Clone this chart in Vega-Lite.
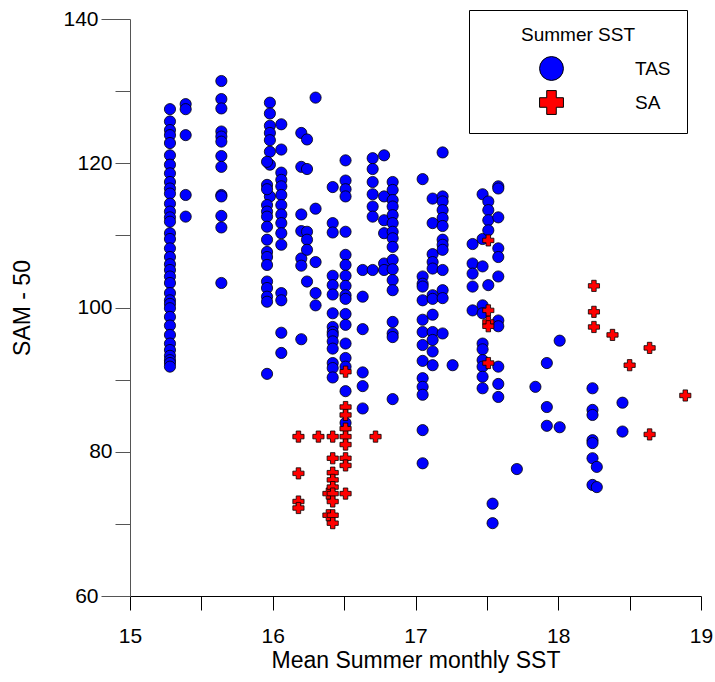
{
  "$schema": "https://vega.github.io/schema/vega-lite/v6.json",
  "width": 571,
  "height": 577,
  "autosize": "none",
  "padding": {"left": 130, "top": 19, "right": 14, "bottom": 86},
  "background": "white",
  "config": {"view": {"stroke": null}, "font": "Liberation Sans"},
  "data": {"values": [
    {"x":15.28,"y":127.5,"g":"TAS"},{"x":15.28,"y":125.8,"g":"TAS"},{"x":15.28,"y":124.6,"g":"TAS"},{"x":15.28,"y":123.9,"g":"TAS"},{"x":15.28,"y":122.8,"g":"TAS"},{"x":15.28,"y":121.1,"g":"TAS"},{"x":15.28,"y":119.8,"g":"TAS"},{"x":15.28,"y":118.6,"g":"TAS"},{"x":15.28,"y":117.4,"g":"TAS"},{"x":15.28,"y":116.5,"g":"TAS"},{"x":15.28,"y":115.8,"g":"TAS"},{"x":15.28,"y":114.4,"g":"TAS"},{"x":15.28,"y":113.3,"g":"TAS"},{"x":15.28,"y":112.5,"g":"TAS"},{"x":15.28,"y":111.9,"g":"TAS"},{"x":15.28,"y":110.3,"g":"TAS"},{"x":15.28,"y":109.5,"g":"TAS"},{"x":15.28,"y":108.2,"g":"TAS"},{"x":15.28,"y":107.0,"g":"TAS"},{"x":15.28,"y":106.0,"g":"TAS"},{"x":15.28,"y":105.2,"g":"TAS"},{"x":15.28,"y":104.3,"g":"TAS"},{"x":15.28,"y":103.4,"g":"TAS"},{"x":15.28,"y":102.0,"g":"TAS"},{"x":15.28,"y":101.0,"g":"TAS"},{"x":15.28,"y":100.5,"g":"TAS"},{"x":15.28,"y":99.9,"g":"TAS"},{"x":15.28,"y":98.7,"g":"TAS"},{"x":15.28,"y":97.5,"g":"TAS"},{"x":15.28,"y":96.2,"g":"TAS"},{"x":15.28,"y":95.0,"g":"TAS"},{"x":15.28,"y":94.1,"g":"TAS"},{"x":15.28,"y":93.3,"g":"TAS"},{"x":15.28,"y":92.7,"g":"TAS"},{"x":15.28,"y":92.3,"g":"TAS"},{"x":15.28,"y":91.8,"g":"TAS"},
    {"x":15.39,"y":128.2,"g":"TAS"},{"x":15.39,"y":127.5,"g":"TAS"},{"x":15.39,"y":123.9,"g":"TAS"},{"x":15.39,"y":115.6,"g":"TAS"},{"x":15.39,"y":112.6,"g":"TAS"},
    {"x":15.64,"y":131.4,"g":"TAS"},{"x":15.64,"y":128.9,"g":"TAS"},{"x":15.64,"y":127.6,"g":"TAS"},{"x":15.64,"y":124.4,"g":"TAS"},{"x":15.64,"y":123.7,"g":"TAS"},{"x":15.64,"y":123.0,"g":"TAS"},{"x":15.64,"y":121.0,"g":"TAS"},{"x":15.64,"y":119.5,"g":"TAS"},{"x":15.64,"y":115.6,"g":"TAS"},{"x":15.64,"y":115.4,"g":"TAS"},{"x":15.64,"y":112.7,"g":"TAS"},{"x":15.64,"y":111.1,"g":"TAS"},{"x":15.64,"y":103.4,"g":"TAS"},
    {"x":15.98,"y":128.4,"g":"TAS"},{"x":15.98,"y":126.9,"g":"TAS"},{"x":15.98,"y":125.2,"g":"TAS"},{"x":15.98,"y":124.2,"g":"TAS"},{"x":15.98,"y":123.2,"g":"TAS"},{"x":15.98,"y":121.6,"g":"TAS"},{"x":15.98,"y":119.8,"g":"TAS"},{"x":15.98,"y":115.4,"g":"TAS"},
    {"x":15.96,"y":120.2,"g":"TAS"},{"x":15.96,"y":117.0,"g":"TAS"},{"x":15.96,"y":116.4,"g":"TAS"},{"x":15.96,"y":114.2,"g":"TAS"},{"x":15.96,"y":113.3,"g":"TAS"},{"x":15.96,"y":112.6,"g":"TAS"},{"x":15.96,"y":111.2,"g":"TAS"},{"x":15.96,"y":109.4,"g":"TAS"},{"x":15.96,"y":107.7,"g":"TAS"},{"x":15.96,"y":107.0,"g":"TAS"},{"x":15.96,"y":105.9,"g":"TAS"},{"x":15.96,"y":103.6,"g":"TAS"},{"x":15.96,"y":102.7,"g":"TAS"},{"x":15.96,"y":101.5,"g":"TAS"},{"x":15.96,"y":100.8,"g":"TAS"},{"x":15.96,"y":90.8,"g":"TAS"},
    {"x":16.06,"y":125.4,"g":"TAS"},{"x":16.06,"y":121.9,"g":"TAS"},{"x":16.06,"y":118.7,"g":"TAS"},{"x":16.06,"y":117.7,"g":"TAS"},{"x":16.06,"y":116.8,"g":"TAS"},{"x":16.06,"y":115.6,"g":"TAS"},{"x":16.06,"y":114.2,"g":"TAS"},{"x":16.06,"y":112.9,"g":"TAS"},{"x":16.06,"y":111.7,"g":"TAS"},{"x":16.06,"y":110.3,"g":"TAS"},{"x":16.06,"y":108.7,"g":"TAS"},{"x":16.06,"y":102.0,"g":"TAS"},{"x":16.06,"y":101.0,"g":"TAS"},{"x":16.06,"y":96.5,"g":"TAS"},{"x":16.06,"y":93.7,"g":"TAS"},
    {"x":16.2,"y":124.2,"g":"TAS"},{"x":16.2,"y":119.5,"g":"TAS"},{"x":16.2,"y":112.9,"g":"TAS"},{"x":16.2,"y":110.6,"g":"TAS"},{"x":16.2,"y":106.8,"g":"TAS"},{"x":16.2,"y":105.8,"g":"TAS"},{"x":16.2,"y":95.6,"g":"TAS"},
    {"x":16.24,"y":123.3,"g":"TAS"},{"x":16.24,"y":119.2,"g":"TAS"},{"x":16.24,"y":110.5,"g":"TAS"},{"x":16.24,"y":109.4,"g":"TAS"},{"x":16.24,"y":108.0,"g":"TAS"},{"x":16.24,"y":103.6,"g":"TAS"},
    {"x":16.3,"y":129.1,"g":"TAS"},{"x":16.3,"y":113.7,"g":"TAS"},{"x":16.3,"y":106.3,"g":"TAS"},{"x":16.3,"y":102.0,"g":"TAS"},{"x":16.3,"y":100.3,"g":"TAS"},
    {"x":16.42,"y":116.7,"g":"TAS"},{"x":16.42,"y":111.7,"g":"TAS"},{"x":16.42,"y":110.4,"g":"TAS"},{"x":16.42,"y":104.4,"g":"TAS"},{"x":16.42,"y":103.1,"g":"TAS"},{"x":16.42,"y":101.8,"g":"TAS"},{"x":16.42,"y":99.2,"g":"TAS"},{"x":16.42,"y":97.3,"g":"TAS"},{"x":16.42,"y":96.6,"g":"TAS"},{"x":16.42,"y":96.2,"g":"TAS"},{"x":16.42,"y":95.3,"g":"TAS"},{"x":16.42,"y":94.3,"g":"TAS"},{"x":16.42,"y":92.3,"g":"TAS"},{"x":16.42,"y":91.6,"g":"TAS"},{"x":16.42,"y":90.3,"g":"TAS"},
    {"x":16.51,"y":120.4,"g":"TAS"},{"x":16.51,"y":117.6,"g":"TAS"},{"x":16.51,"y":116.4,"g":"TAS"},{"x":16.51,"y":115.4,"g":"TAS"},{"x":16.51,"y":110.5,"g":"TAS"},{"x":16.51,"y":107.3,"g":"TAS"},{"x":16.51,"y":105.9,"g":"TAS"},{"x":16.51,"y":104.4,"g":"TAS"},{"x":16.51,"y":103.0,"g":"TAS"},{"x":16.51,"y":101.7,"g":"TAS"},{"x":16.51,"y":101.2,"g":"TAS"},{"x":16.51,"y":99.1,"g":"TAS"},{"x":16.51,"y":97.6,"g":"TAS"},{"x":16.51,"y":95.0,"g":"TAS"},{"x":16.51,"y":93.0,"g":"TAS"},{"x":16.51,"y":91.8,"g":"TAS"},{"x":16.51,"y":88.4,"g":"TAS"},{"x":16.51,"y":84.0,"g":"TAS"},
    {"x":16.63,"y":105.2,"g":"TAS"},{"x":16.63,"y":101.5,"g":"TAS"},{"x":16.63,"y":97.0,"g":"TAS"},{"x":16.63,"y":91.0,"g":"TAS"},{"x":16.63,"y":89.1,"g":"TAS"},{"x":16.63,"y":86.0,"g":"TAS"},
    {"x":16.7,"y":120.7,"g":"TAS"},{"x":16.7,"y":119.2,"g":"TAS"},{"x":16.7,"y":117.4,"g":"TAS"},{"x":16.7,"y":115.7,"g":"TAS"},{"x":16.7,"y":114.0,"g":"TAS"},{"x":16.7,"y":112.6,"g":"TAS"},{"x":16.7,"y":105.2,"g":"TAS"},
    {"x":16.78,"y":121.1,"g":"TAS"},{"x":16.78,"y":115.4,"g":"TAS"},{"x":16.78,"y":112.1,"g":"TAS"},{"x":16.78,"y":110.3,"g":"TAS"},{"x":16.78,"y":106.1,"g":"TAS"},{"x":16.78,"y":105.2,"g":"TAS"},
    {"x":16.84,"y":117.4,"g":"TAS"},{"x":16.84,"y":116.3,"g":"TAS"},{"x":16.84,"y":114.9,"g":"TAS"},{"x":16.84,"y":114.0,"g":"TAS"},{"x":16.84,"y":112.8,"g":"TAS"},{"x":16.84,"y":111.7,"g":"TAS"},{"x":16.84,"y":110.5,"g":"TAS"},{"x":16.84,"y":109.6,"g":"TAS"},{"x":16.84,"y":108.4,"g":"TAS"},{"x":16.84,"y":106.6,"g":"TAS"},{"x":16.84,"y":105.3,"g":"TAS"},{"x":16.84,"y":103.8,"g":"TAS"},{"x":16.84,"y":102.4,"g":"TAS"},{"x":16.84,"y":98.0,"g":"TAS"},{"x":16.84,"y":96.4,"g":"TAS"},{"x":16.84,"y":95.9,"g":"TAS"},{"x":16.84,"y":87.3,"g":"TAS"},
    {"x":17.05,"y":117.8,"g":"TAS"},{"x":17.05,"y":104.3,"g":"TAS"},{"x":17.05,"y":103.3,"g":"TAS"},{"x":17.05,"y":102.9,"g":"TAS"},{"x":17.05,"y":101.0,"g":"TAS"},{"x":17.05,"y":98.3,"g":"TAS"},{"x":17.05,"y":96.6,"g":"TAS"},{"x":17.05,"y":94.8,"g":"TAS"},{"x":17.05,"y":92.6,"g":"TAS"},{"x":17.05,"y":90.2,"g":"TAS"},{"x":17.05,"y":89.0,"g":"TAS"},{"x":17.05,"y":87.9,"g":"TAS"},{"x":17.05,"y":83.0,"g":"TAS"},{"x":17.05,"y":78.4,"g":"TAS"},
    {"x":17.12,"y":115.1,"g":"TAS"},{"x":17.12,"y":111.7,"g":"TAS"},{"x":17.12,"y":107.4,"g":"TAS"},{"x":17.12,"y":106.3,"g":"TAS"},{"x":17.12,"y":105.4,"g":"TAS"},{"x":17.12,"y":101.7,"g":"TAS"},{"x":17.12,"y":101.2,"g":"TAS"},{"x":17.12,"y":99.0,"g":"TAS"},{"x":17.12,"y":96.6,"g":"TAS"},{"x":17.12,"y":95.5,"g":"TAS"},{"x":17.12,"y":93.9,"g":"TAS"},{"x":17.12,"y":92.0,"g":"TAS"},
    {"x":17.19,"y":121.5,"g":"TAS"},{"x":17.19,"y":115.4,"g":"TAS"},{"x":17.19,"y":114.7,"g":"TAS"},{"x":17.19,"y":113.5,"g":"TAS"},{"x":17.19,"y":112.4,"g":"TAS"},{"x":17.19,"y":111.3,"g":"TAS"},{"x":17.19,"y":109.4,"g":"TAS"},{"x":17.19,"y":108.7,"g":"TAS"},{"x":17.19,"y":108.0,"g":"TAS"},{"x":17.19,"y":105.2,"g":"TAS"},{"x":17.19,"y":102.4,"g":"TAS"},{"x":17.19,"y":101.3,"g":"TAS"},{"x":17.19,"y":96.4,"g":"TAS"},
    {"x":17.26,"y":92.0,"g":"TAS"},
    {"x":17.4,"y":108.8,"g":"TAS"},{"x":17.4,"y":106.1,"g":"TAS"},{"x":17.4,"y":104.7,"g":"TAS"},{"x":17.4,"y":102.9,"g":"TAS"},{"x":17.4,"y":99.6,"g":"TAS"},
    {"x":17.47,"y":115.7,"g":"TAS"},{"x":17.47,"y":109.5,"g":"TAS"},{"x":17.47,"y":105.7,"g":"TAS"},{"x":17.47,"y":100.3,"g":"TAS"},{"x":17.47,"y":99.2,"g":"TAS"},{"x":17.47,"y":95.0,"g":"TAS"},{"x":17.47,"y":94.2,"g":"TAS"},{"x":17.47,"y":92.7,"g":"TAS"},{"x":17.47,"y":91.8,"g":"TAS"},{"x":17.47,"y":90.4,"g":"TAS"},{"x":17.47,"y":88.8,"g":"TAS"},
    {"x":17.51,"y":114.7,"g":"TAS"},{"x":17.51,"y":113.5,"g":"TAS"},{"x":17.51,"y":112.1,"g":"TAS"},{"x":17.51,"y":110.7,"g":"TAS"},{"x":17.51,"y":103.1,"g":"TAS"},
    {"x":17.58,"y":116.8,"g":"TAS"},{"x":17.58,"y":116.5,"g":"TAS"},{"x":17.58,"y":112.5,"g":"TAS"},{"x":17.58,"y":108.2,"g":"TAS"},{"x":17.58,"y":107.0,"g":"TAS"},{"x":17.58,"y":104.3,"g":"TAS"},{"x":17.58,"y":98.2,"g":"TAS"},{"x":17.58,"y":97.4,"g":"TAS"},{"x":17.58,"y":91.8,"g":"TAS"},{"x":17.58,"y":89.4,"g":"TAS"},{"x":17.58,"y":87.6,"g":"TAS"},
    {"x":17.54,"y":72.8,"g":"TAS"},{"x":17.54,"y":70.1,"g":"TAS"},
    {"x":17.71,"y":77.6,"g":"TAS"},
    {"x":17.84,"y":89.0,"g":"TAS"},
    {"x":17.92,"y":92.3,"g":"TAS"},{"x":17.92,"y":86.2,"g":"TAS"},{"x":17.92,"y":83.6,"g":"TAS"},
    {"x":18.01,"y":95.4,"g":"TAS"},{"x":18.01,"y":83.4,"g":"TAS"},
    {"x":18.24,"y":88.8,"g":"TAS"},{"x":18.24,"y":85.8,"g":"TAS"},{"x":18.24,"y":85.1,"g":"TAS"},{"x":18.24,"y":81.6,"g":"TAS"},{"x":18.24,"y":81.2,"g":"TAS"},{"x":18.24,"y":79.1,"g":"TAS"},{"x":18.24,"y":75.4,"g":"TAS"},
    {"x":18.27,"y":77.9,"g":"TAS"},{"x":18.27,"y":75.1,"g":"TAS"},
    {"x":18.45,"y":86.8,"g":"TAS"},{"x":18.45,"y":82.8,"g":"TAS"},
    {"x":16.18,"y":82.1,"g":"SA"},{"x":16.18,"y":77.0,"g":"SA"},{"x":16.18,"y":73.1,"g":"SA"},{"x":16.18,"y":72.2,"g":"SA"},
    {"x":16.32,"y":82.1,"g":"SA"},
    {"x":16.39,"y":74.2,"g":"SA"},{"x":16.39,"y":71.2,"g":"SA"},
    {"x":16.42,"y":82.1,"g":"SA"},{"x":16.42,"y":79.1,"g":"SA"},{"x":16.42,"y":77.1,"g":"SA"},{"x":16.42,"y":76.1,"g":"SA"},{"x":16.42,"y":75.1,"g":"SA"},{"x":16.42,"y":74.2,"g":"SA"},{"x":16.42,"y":73.1,"g":"SA"},{"x":16.42,"y":71.2,"g":"SA"},{"x":16.42,"y":70.1,"g":"SA"},
    {"x":16.51,"y":91.1,"g":"SA"},{"x":16.51,"y":86.2,"g":"SA"},{"x":16.51,"y":85.1,"g":"SA"},{"x":16.51,"y":83.2,"g":"SA"},{"x":16.51,"y":82.1,"g":"SA"},{"x":16.51,"y":81.0,"g":"SA"},{"x":16.51,"y":79.1,"g":"SA"},{"x":16.51,"y":78.1,"g":"SA"},{"x":16.51,"y":74.2,"g":"SA"},
    {"x":16.72,"y":82.1,"g":"SA"},
    {"x":17.51,"y":109.3,"g":"SA"},{"x":17.51,"y":99.6,"g":"SA"},{"x":17.51,"y":98.0,"g":"SA"},{"x":17.51,"y":97.4,"g":"SA"},{"x":17.51,"y":92.3,"g":"SA"},
    {"x":18.25,"y":103.0,"g":"SA"},{"x":18.25,"y":99.4,"g":"SA"},{"x":18.25,"y":97.3,"g":"SA"},
    {"x":18.38,"y":96.2,"g":"SA"},
    {"x":18.5,"y":92.0,"g":"SA"},
    {"x":18.64,"y":94.4,"g":"SA"},{"x":18.64,"y":82.4,"g":"SA"},
    {"x":18.89,"y":87.8,"g":"SA"}
  ]},
  "mark": {"type": "point", "filled": true, "opacity": 1, "stroke": "black", "strokeWidth": 0.8, "size": 125},
  "encoding": {
    "x": {"field": "x", "type": "quantitative",
      "scale": {"domain": [15, 19], "nice": false, "zero": false},
      "axis": {"title": "Mean Summer monthly SST", "values": [15, 15.5, 16, 16.5, 17, 17.5, 18, 18.5, 19],
        "labelExpr": "datum.value % 1 == 0 ? format(datum.value, 'd') : ''", "grid": false, "tickSize": 14, "labelPadding": 15,
        "labelFontSize": 21, "titleFontSize": 23, "titleFontWeight": "normal", "titlePadding": 3,
        "domainColor": "black", "tickColor": "black", "labelColor": "black", "titleColor": "black", "labelFlush": false}},
    "y": {"field": "y", "type": "quantitative",
      "scale": {"domain": [60, 140], "nice": false, "zero": false},
      "axis": {"title": "SAM - 50", "values": [60, 70, 80, 90, 100, 110, 120, 130, 140],
        "labelExpr": "datum.value == 60 || datum.value == 140 ? datum.label + '\u00a0\u00a0\u00a0\u00a0\u00a0\u00a0\u00a0' : (datum.value % 20 == 0 ? datum.label : '')", "grid": false,
        "tickSize": {"condition": {"test": "datum.value == 60 || datum.value == 140", "value": 29}, "value": 15},
        "labelPadding": 3,
        "labelFontSize": 21, "titleFontSize": 23, "titleFontWeight": "normal", "titlePadding": 28,
        "domainColor": "#555555", "tickColor": "#555555", "labelColor": "black", "titleColor": "black", "labelFlush": false}},
    "color": {"field": "g", "type": "nominal",
      "scale": {"domain": ["TAS", "SA"], "range": ["#0000ff", "#ff0000"]},
      "legend": {"title": "Summer SST", "orient": "none", "legendX": 339, "legendY": -9, "padding": 16,
        "strokeColor": "black", "fillColor": "white", "cornerRadius": 0, "symbolSize": 570, "symbolOffset": 54,
        "labelOffset": 71, "titleAnchor": "middle", "titleFontSize": 19, "titleFontWeight": "normal", "labelFontSize": 19,
        "rowPadding": 5, "titlePadding": 11, "symbolStrokeColor": "black", "symbolStrokeWidth": 1}},
    "shape": {"field": "g", "type": "nominal",
      "scale": {"domain": ["TAS", "SA"], "range": ["circle", "cross"]},
      "legend": {"title": "Summer SST", "orient": "none", "legendX": 339, "legendY": -9, "padding": 16,
        "strokeColor": "black", "fillColor": "white", "cornerRadius": 0, "symbolSize": 570, "symbolOffset": 54,
        "labelOffset": 71, "titleAnchor": "middle", "titleFontSize": 19, "titleFontWeight": "normal", "labelFontSize": 19,
        "rowPadding": 5, "titlePadding": 11, "symbolStrokeColor": "black", "symbolStrokeWidth": 1}}
  }
}
